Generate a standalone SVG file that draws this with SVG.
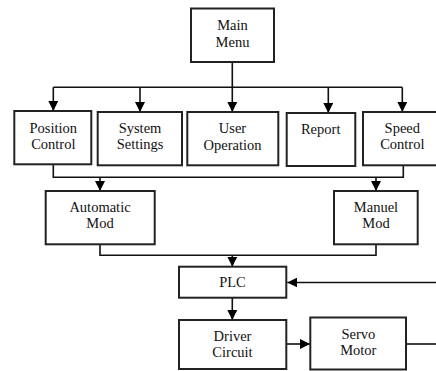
<svg xmlns="http://www.w3.org/2000/svg" width="436" height="371" viewBox="0 0 436 371">
<defs>
<marker id="ah" viewBox="0 0 10 10" refX="10" refY="5" markerWidth="10" markerHeight="10" markerUnits="userSpaceOnUse" orient="auto">
<path d="M0,0 L10,5 L0,10 Z" fill="#000"/>
</marker>
<style>
.box{fill:#fff;stroke:#222;stroke-width:2}
.ln{fill:none;stroke:#111;stroke-width:1.6}
.arr{fill:none;stroke:#111;stroke-width:1.6;marker-end:url(#ah)}
.t{font-family:"Liberation Serif","Times New Roman",Times,serif;font-size:14.5px;fill:#111;text-anchor:middle}
</style>
</defs>
<rect width="436" height="371" fill="#fff"/>
<g id="connectors">
<path class="ln" d="M232.3,62 V87.3 M53.3,87.3 H402.3"/>
<path class="arr" d="M53.3,87.3 V111"/>
<path class="arr" d="M140,87.3 V112"/>
<path class="arr" d="M232.3,87.3 V112"/>
<path class="arr" d="M328.3,87.3 V113"/>
<path class="arr" d="M402.3,87.3 V112"/>
<path class="ln" d="M53.3,164.3 V177.3 H403.3 V165.3"/>
<path class="arr" d="M100,177.3 V191"/>
<path class="arr" d="M376,177.3 V191"/>
<path class="ln" d="M100,244.3 V255.3 H376 V244.3"/>
<path class="arr" d="M232.3,255.3 V266.7"/>
<path class="arr" d="M436,282.5 H287.3"/>
<path class="arr" d="M232.3,297.7 V320"/>
<path class="arr" d="M286.3,344 H310"/>
<path class="ln" d="M406,344 H436"/>
</g>
<g id="main-menu">
<rect class="box" x="191" y="8.5" width="83" height="53.5"/>
<text class="t" x="232.5" y="30">Main</text>
<text class="t" x="232.5" y="46.5">Menu</text>
</g>
<g id="position-control">
<rect class="box" x="14.3" y="111" width="77" height="53.3"/>
<text class="t" x="53.3" y="132.5">Position</text>
<text class="t" x="53.3" y="148.5">Control</text>
</g>
<g id="system-settings">
<rect class="box" x="97.7" y="112" width="84.3" height="53.3"/>
<text class="t" x="140" y="133">System</text>
<text class="t" x="140" y="149">Settings</text>
</g>
<g id="user-operation">
<rect class="box" x="187.3" y="112" width="91" height="53.3"/>
<text class="t" x="232.5" y="133">User</text>
<text class="t" x="232.5" y="149.5">Operation</text>
</g>
<g id="report">
<rect class="box" x="286.7" y="113" width="68.6" height="53"/>
<text class="t" x="320.7" y="134">Report</text>
</g>
<g id="speed-control">
<rect class="box" x="363" y="112" width="75" height="53.3"/>
<text class="t" x="402.3" y="133">Speed</text>
<text class="t" x="402.3" y="149">Control</text>
</g>
<g id="automatic-mod">
<rect class="box" x="45.7" y="191" width="109" height="53.3"/>
<text class="t" x="100" y="212">Automatic</text>
<text class="t" x="100" y="228">Mod</text>
</g>
<g id="manuel-mod">
<rect class="box" x="334" y="191" width="83.7" height="53.3"/>
<text class="t" x="376" y="212">Manuel</text>
<text class="t" x="376" y="228">Mod</text>
</g>
<g id="plc">
<rect class="box" x="179" y="266.7" width="107.3" height="31"/>
<text class="t" x="232.5" y="287">PLC</text>
</g>
<g id="driver-circuit">
<rect class="box" x="179" y="320" width="107.3" height="49"/>
<text class="t" x="232.5" y="340.5">Driver</text>
<text class="t" x="232.5" y="356.5">Circuit</text>
</g>
<g id="servo-motor">
<rect class="box" x="310.3" y="317.5" width="95.7" height="52"/>
<text class="t" x="358.3" y="338.5">Servo</text>
<text class="t" x="358.3" y="354.5">Motor</text>
</g>
</svg>
